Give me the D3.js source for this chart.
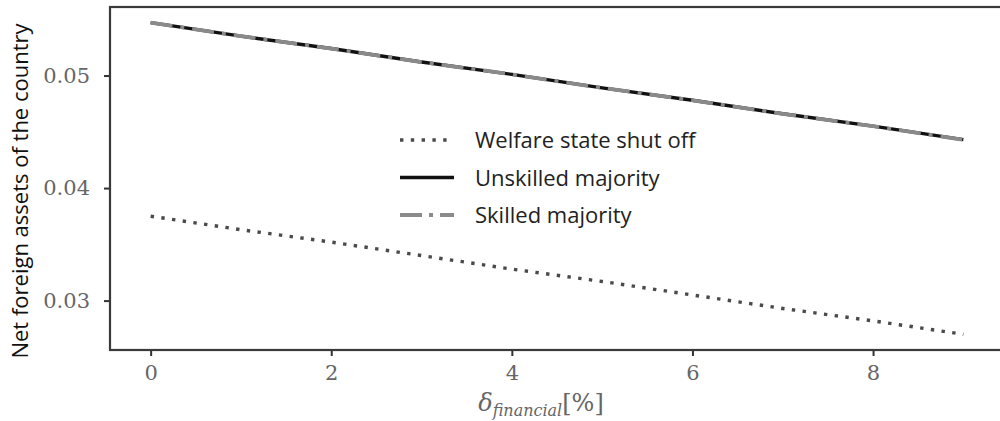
<!DOCTYPE html>
<html>
<head>
<meta charset="utf-8">
<script src="https://cdn.jsdelivr.net/npm/d3@7"></script>
<style>
  body { margin: 0; background: #fff; }
  svg { display: block; }
</style>
</head>
<body>
<div id="display"></div>
<script>
// values
var deltas = [0, 1, 2, 3, 4, 5, 6, 7, 8, 9];
var shutOff = [0.0375, 0.0363, 0.0352, 0.0340, 0.0328, 0.0317, 0.0305, 0.0293, 0.0282, 0.0270];
var unskilled = [0.0547, 0.0535, 0.0524, 0.0512, 0.0501, 0.0489, 0.0478, 0.0466, 0.0455, 0.0443];
var skilled = [0.0547, 0.0535, 0.0524, 0.0512, 0.0501, 0.0489, 0.0478, 0.0466, 0.0455, 0.0443];
var xTicks = [0, 2, 4, 6, 8];
var yTicks = [0.03, 0.04, 0.05];
var legendNames = ["Welfare state shut off", "Unskilled majority", "Skilled majority"];

var width = 1000, height = 421;
var margin = {left: 110, right: -4, top: 7, bottom: 71};

var svg = d3.select("#display").append("svg")
    .attr("width", width)
    .attr("height", height);

var x = d3.scaleLinear()
    .domain([-0.45, 9.45])
    .range([margin.left, width - margin.right]);

var y = d3.scaleLinear()
    .domain([0.02561, 0.05609])
    .range([height - margin.bottom, margin.top]);

var line = d3.line()
    .x(function (d) { return x(d[0]); })
    .y(function (d) { return y(d[1]); });

function pairs(vals) {
  return deltas.map(function (d, i) { return [d, vals[i]]; });
}

// series: solid black first, then grey dash-dot over it, dotted below
var styles = [
  {vals: shutOff, stroke: "#4a4a4a", w: 3.4, dash: "3.4,7.4"},
  {vals: unskilled, stroke: "#111", w: 3.4, dash: null},
  {vals: skilled, stroke: "#8a8a8a", w: 3.8, dash: "22,8,4,8"}
];

styles.forEach(function (s) {
  svg.append("path")
      .datum(pairs(s.vals))
      .attr("fill", "none")
      .attr("stroke", s.stroke)
      .attr("stroke-width", s.w)
      .attr("stroke-dasharray", s.dash)
      .attr("d", line);
});

// axes
var xAxis = g => g
    .attr("transform", `translate(0,${height - margin.bottom})`)
    .call(d3.axisBottom(x).tickValues(xTicks).tickSize(6).tickPadding(9).tickFormat(d3.format("d")))
    .call(g => g.select(".domain").remove());

var yAxis = g => g
    .attr("transform", `translate(${margin.left},0)`)
    .call(d3.axisLeft(y).tickValues(yTicks).tickSize(6).tickPadding(14).tickFormat(d3.format(".2f")))
    .call(g => g.select(".domain").remove());

svg.append("g").call(xAxis);
svg.append("g").call(yAxis);

svg.selectAll(".tick line").attr("stroke", "#333").attr("stroke-width", 2);
svg.selectAll(".tick text")
    .attr("fill", "#666")
    .style("font-family", "'DejaVu Serif', serif")
    .style("font-size", "21px");

// frame
svg.append("rect")
    .attr("x", x.range()[0])
    .attr("y", y.range()[1])
    .attr("width", x.range()[1] - x.range()[0])
    .attr("height", y.range()[0] - y.range()[1])
    .attr("fill", "none")
    .attr("stroke", "#3a3a3a")
    .attr("stroke-width", 2.2);

// axis labels
svg.append("text")
    .attr("transform", "translate(28,191) rotate(-90)")
    .attr("text-anchor", "middle")
    .attr("fill", "#111")
    .style("font-family", "'Open Sans', sans-serif")
    .style("font-size", "22px")
    .text("Net foreign assets of the country");

var xl = svg.append("text")
    .attr("x", 541)
    .attr("y", 411)
    .attr("text-anchor", "middle")
    .attr("fill", "#666")
    .style("font-family", "'DejaVu Serif', serif")
    .style("font-size", "24px");
xl.append("tspan").style("font-style", "italic").text("δ");
xl.append("tspan").attr("dy", 5).style("font-style", "italic").style("font-size", "16px").text("financial");
xl.append("tspan").attr("dy", -5).text("[%]");

// legend
var legend = svg.append("g");
legendNames.forEach(function (name, i) {
  var ly = 140 + i * 37.5;
  var s = styles[i];
  legend.append("line")
      .attr("x1", 400).attr("x2", 454)
      .attr("y1", ly).attr("y2", ly)
      .attr("stroke", s.stroke)
      .attr("stroke-width", s.w)
      .attr("stroke-dasharray", i === 2 ? "22,7,4,7" : s.dash);
  legend.append("text")
      .attr("x", 475)
      .attr("y", ly + 8)
      .attr("fill", "#222")
      .style("font-family", "'Open Sans', sans-serif")
      .style("font-size", "22px")
      .text(name);
});
</script>
</body>
</html>
